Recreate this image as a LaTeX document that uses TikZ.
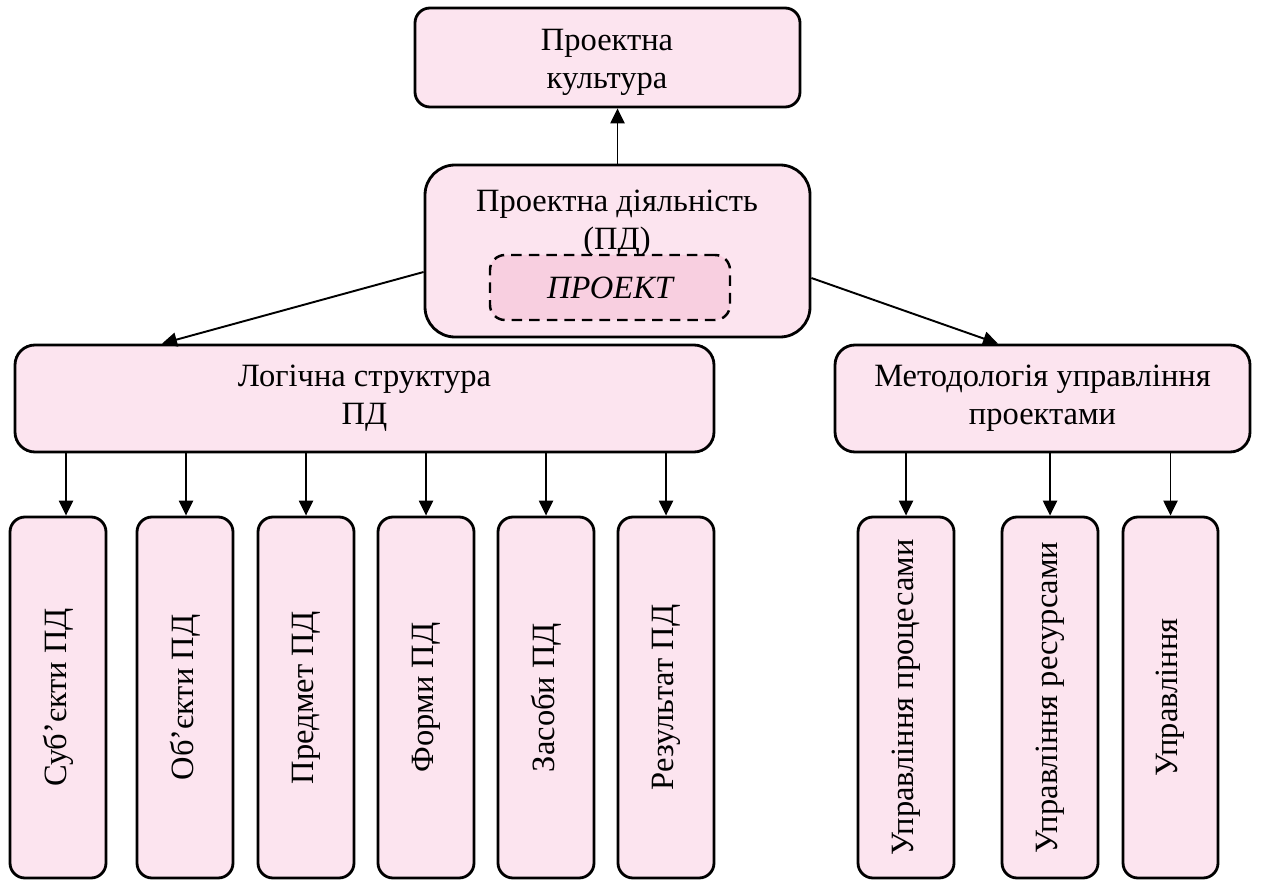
\documentclass[tikz,border=0pt]{standalone}
\usepackage{fontspec}
\setmainfont{Liberation Serif}
\usetikzlibrary{fit,arrows.meta}
\definecolor{boxpink}{HTML}{FCE4EF}
\definecolor{innerpink}{HTML}{F8CFE0}
\tikzset{
  box/.style={draw=black, line width=1.6pt, fill=boxpink, rounded corners=#1,
    inner sep=0pt},
  box/.default=4mm,
  dashbox/.style={draw=black, line width=1.4pt, dash pattern=on 6pt off 4pt,
    fill=innerpink, rounded corners=3mm, inner sep=0pt},
  txt/.style={align=center, inner sep=0pt, font=\fontsize{18.5}{21.5}\selectfont},
  itxt/.style={txt, font=\fontsize{18.5}{21.5}\selectfont\itshape},
  vtext/.style={rotate=90, inner sep=0pt, font=\fontsize{18.5}{21.5}\selectfont},
  arr/.style={line width=1.1pt, -{Triangle[length=8.5pt,width=8pt]}}
}
\begin{document}
\begin{tikzpicture}[x=0.02cm,y=-0.02cm]
\useasboundingbox (0,0) rectangle (1270,881);

% top
\node[box=3mm, fit={(415,8)(800,107)}] (pk) {};
\node[txt] (pkt) at (607,62) {Проектна\\культура};

% centre
\node[box=6mm, fit={(425,165)(810,337)}] (pd) {};
\node[txt] (pdt) at (617,223) {Проектна діяльність\\(ПД)};
\node[dashbox, fit={(490,255)(730,320)}] (pr) {};
\node[itxt] (prt) at (pr) {ПРОЕКТ};

% second level
\node[box=4mm, fit={(15,345)(714,452)}] (lg) {};
\node[txt] (lgt) at (lg) {Логічна структура\\ПД};
\node[box=4mm, fit={(835,345)(1250,452)}] (mg) {};
\node[txt] (mgt) at (mg) {Методологія управління\\проектами};

% vertical boxes left
\node[box=3mm, fit={(10,517)(106,878)}] (s1) {};
\node[box=3mm, fit={(137,517)(233,878)}] (s2) {};
\node[box=3mm, fit={(258,517)(354,878)}] (s3) {};
\node[box=3mm, fit={(378,517)(474,878)}] (s4) {};
\node[box=3mm, fit={(498,517)(594,878)}] (s5) {};
\node[box=3mm, fit={(618,517)(714,878)}] (s6) {};
\node[vtext] (s1t) at (s1) {Суб’єкти ПД};
\node[vtext] (s2t) at (s2) {Об’єкти ПД};
\node[vtext] (s3t) at (s3) {Предмет ПД};
\node[vtext] (s4t) at (s4) {Форми ПД};
\node[vtext] (s5t) at (s5) {Засоби ПД};
\node[vtext] (s6t) at (s6) {Результат ПД};

% vertical boxes right
\node[box=3mm, fit={(858,517)(954,878)}] (m1) {};
\node[box=3mm, fit={(1002,517)(1098,878)}] (m2) {};
\node[box=3mm, fit={(1123,517)(1218,878)}] (m3) {};
\node[vtext] (m1t) at (m1) {Управління процесами};
\node[vtext] (m2t) at (m2) {Управління ресурсами};
\node[vtext] (m3t) at (m3) {Управління};

% arrows
\draw[arr] (pd.north) -- (pk.south -| pd.north);
\draw[arr] (pd.west |- 0,272) -- (lg.north -| 162,0);
\draw[arr] (pd.east |- 0,278) -- (mg.north -| 998,0);

\draw[arr] (lg.south -| 66,0) -- (s1.north -| 66,0);
\draw[arr] (lg.south -| 186,0) -- (s2.north -| 186,0);
\draw[arr] (lg.south -| s3.north) -- (s3.north);
\draw[arr] (lg.south -| s4.north) -- (s4.north);
\draw[arr] (lg.south -| s5.north) -- (s5.north);
\draw[arr] (lg.south -| s6.north) -- (s6.north);

\draw[arr] (mg.south -| m1.north) -- (m1.north);
\draw[arr] (mg.south -| m2.north) -- (m2.north);
\draw[arr] (mg.south -| m3.north) -- (m3.north);
\end{tikzpicture}
\end{document}
